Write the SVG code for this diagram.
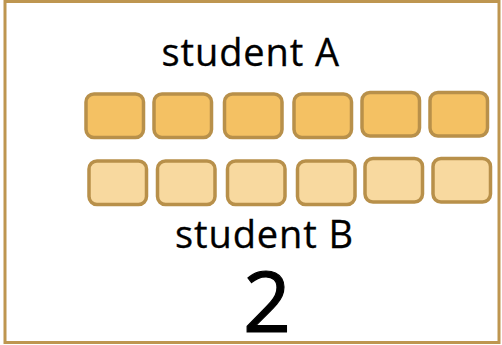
<svg xmlns="http://www.w3.org/2000/svg" width="502" height="345" viewBox="0 0 502 345">
<style>
.frame{fill:#fff;stroke:#BE9650;stroke-width:3}
.a rect{fill:#F4C163;stroke:#B8904A;stroke-width:3.5}
.b rect{fill:#F8D99F;stroke:#B8904A;stroke-width:3.5}
.lbl{font-family:"Open Sans","DejaVu Sans",sans-serif;font-size:38px;fill:#000;letter-spacing:0.9px;stroke:#000;stroke-width:0.3px}
.num{font-family:"Open Sans","DejaVu Sans",sans-serif;font-size:84px;fill:#000;stroke:#000;stroke-width:1.2px}
</style>
<rect id="frame" class="frame" x="5" y="1.5" width="494" height="341"/>
<g id="labelA"><text class="lbl" x="161.5" y="65.5">student A</text></g>
<g id="rowA" class="a">
<rect id="a1" x="86" y="94" width="57.5" height="43.5" rx="8"/>
<rect id="a2" x="154" y="94" width="57.5" height="43.5" rx="8"/>
<rect id="a3" x="224.5" y="94" width="57.5" height="43.5" rx="8"/>
<rect id="a4" x="294" y="94" width="57.5" height="43.5" rx="8"/>
<rect id="a5" x="362" y="92.5" width="57.5" height="43.5" rx="8"/>
<rect id="a6" x="430" y="92.5" width="57.5" height="43.5" rx="8"/>
</g>
<g id="rowB" class="b">
<rect id="b1" x="89" y="161" width="57.5" height="43.5" rx="8"/>
<rect id="b2" x="157.5" y="161" width="57.5" height="43.5" rx="8"/>
<rect id="b3" x="227.5" y="161" width="57.5" height="43.5" rx="8"/>
<rect id="b4" x="297.5" y="161" width="57.5" height="43.5" rx="8"/>
<rect id="b5" x="365" y="158.5" width="57.5" height="43.5" rx="8"/>
<rect id="b6" x="433" y="158.5" width="57.5" height="43.5" rx="8"/>
</g>
<g id="labelB"><text class="lbl" x="175" y="247.5">student B</text></g>
<g id="value"><text class="num" x="267" y="332" text-anchor="middle">2</text></g>
</svg>
